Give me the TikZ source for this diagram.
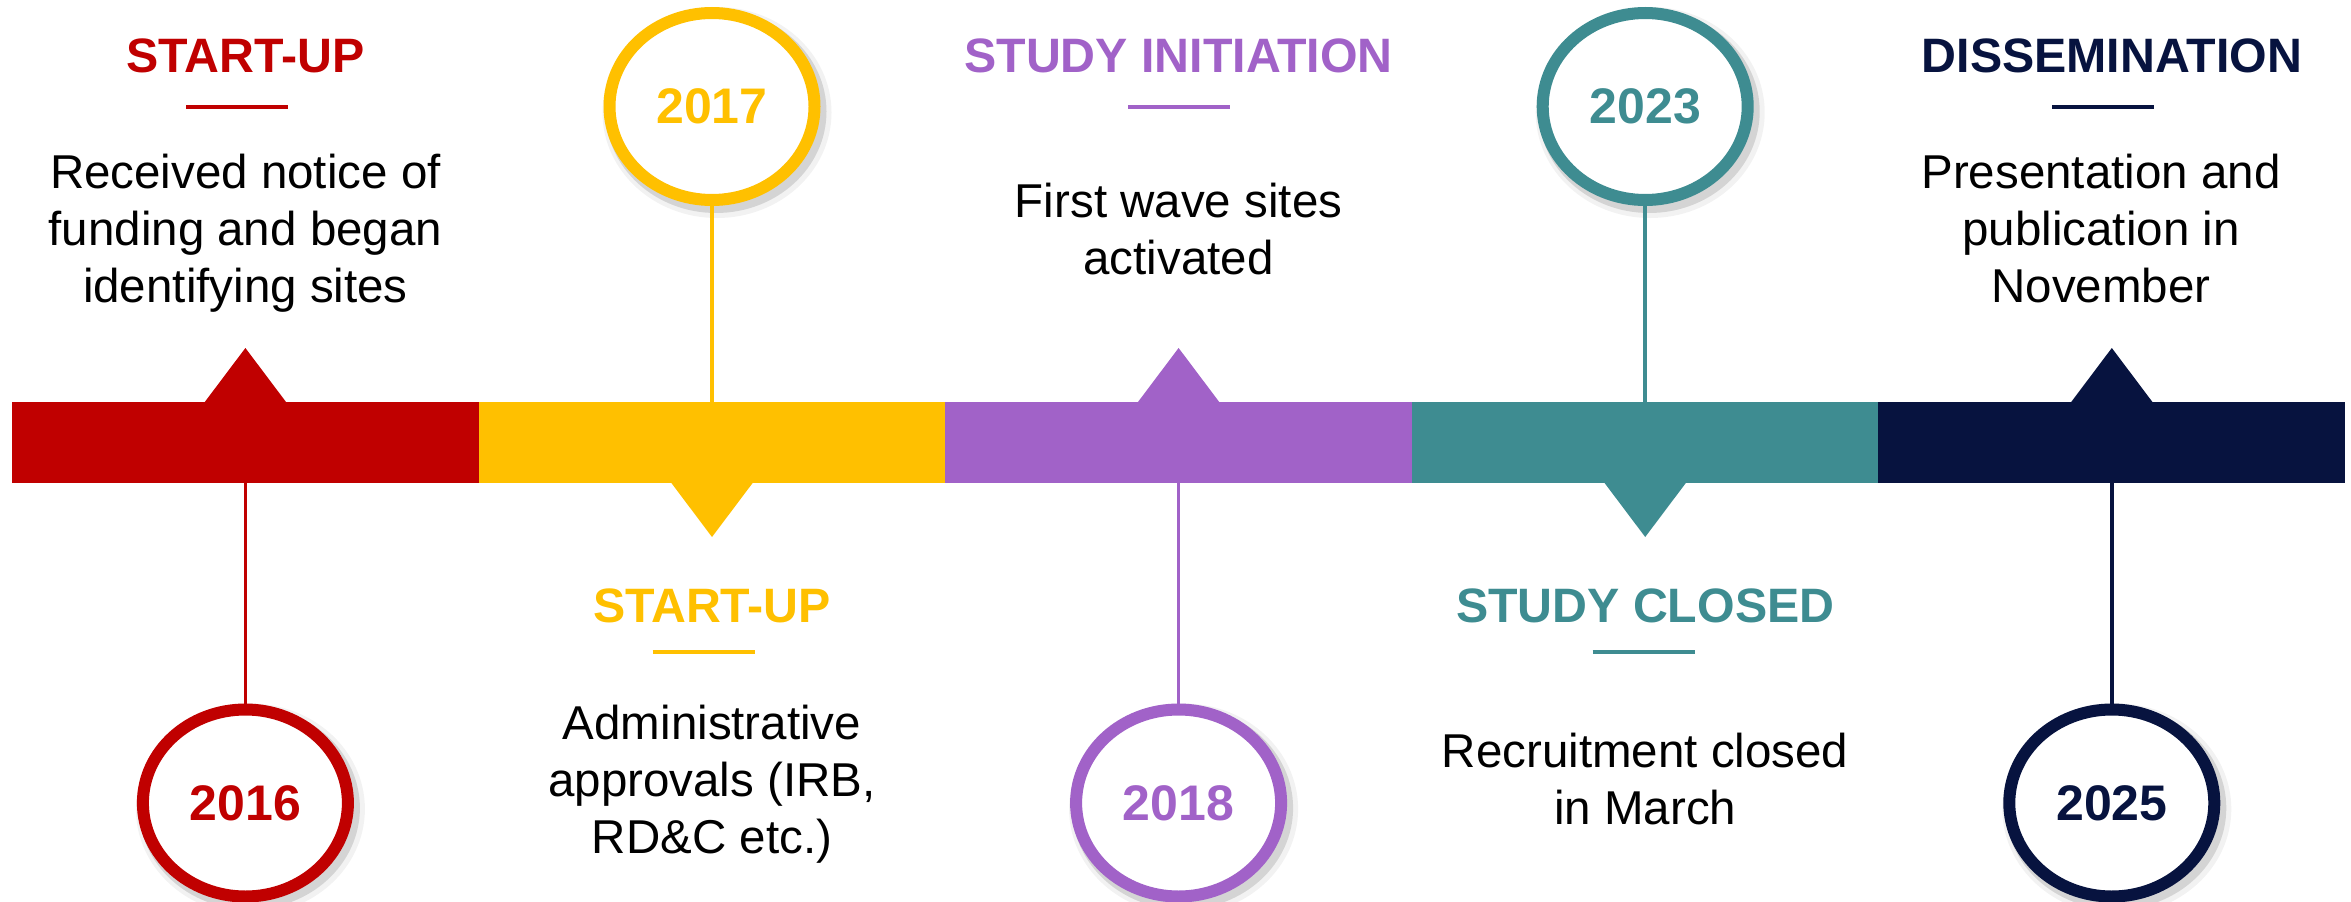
\documentclass[tikz,border=0pt]{standalone}
\usepackage{fontspec}
\setmainfont{Liberation Sans}
\usetikzlibrary{shapes.geometric}
\definecolor{cred}{HTML}{C00000}
\definecolor{cyel}{HTML}{FFC000}
\definecolor{cpur}{HTML}{A162C8}
\definecolor{cteal}{HTML}{3E8C91}
\definecolor{cnavy}{HTML}{07133F}
\tikzset{
  seg/.style={rectangle, minimum width=466.8pt, minimum height=81pt, inner sep=0pt, fill=#1},
  shadowfx/.style={
    preaction={draw=black, draw opacity=0.05, line width=24pt, transform canvas={shift={(5pt,-6pt)}}},
    preaction={draw=black, draw opacity=0.12, line width=16pt, transform canvas={shift={(4pt,-5pt)}}}},
  yearbox/.style={ellipse, minimum width=205pt, minimum height=187pt, inner sep=0pt,
    draw=#1, line width=12pt, fill=white, text=#1, font=\fontsize{50}{60}\selectfont\bfseries, shadowfx},
  head/.style={anchor=base, text=#1, inner sep=0pt, font=\fontsize{48.3}{57}\selectfont\bfseries},
  body/.style={anchor=base, align=center, inner sep=0pt, font=\fontsize{47.5}{57}\selectfont},
  uline/.style={draw=#1, line width=4pt},
  conn/.style={draw=#1, line width=3.5pt},
}
\begin{document}
\begin{tikzpicture}[x=1pt,y=-1pt]
\useasboundingbox[fill=white] (0,0) rectangle (2351,902);
% bar segments
\node[seg=cred]  (s1) at (245.4,442.5) {};
\node[seg=cyel]  (s2) at (712.0,442.5) {};
\node[seg=cpur]  (s3) at (1178.6,442.5) {};
\node[seg=cteal] (s4) at (1645.2,442.5) {};
\node[seg=cnavy] (s5) at (2111.8,442.5) {};
% triangles
\fill[cred]  (204.4,402.5) -- (245.4,348) -- (286.4,402.5) -- cycle;
\fill[cpur]  (1137.6,402.5) -- (1178.6,348) -- (1219.6,402.5) -- cycle;
\fill[cnavy] (2070.8,402.5) -- (2111.8,348) -- (2152.8,402.5) -- cycle;
\fill[cyel]  (671.0,482.5) -- (712.0,537) -- (753.0,482.5) -- cycle;
\fill[cteal] (1604.2,482.5) -- (1645.2,537) -- (1686.2,482.5) -- cycle;
% year ellipses
\node[yearbox=cred]  (y2016) at (245.4,803) {2016};
\node[yearbox=cyel]  (y2017) at (712.0,106.5) {2017};
\node[yearbox=cpur]  (y2018) at (1178.6,803) {2018};
\node[yearbox=cteal] (y2023) at (1645.2,106.5) {2023};
\node[yearbox=cnavy] (y2025) at (2111.8,803) {2025};
% connectors
\path[conn=cred]  (s1.south) -- (y2016.north);
\path[conn=cyel]  (y2017.south) -- (s2.north);
\path[conn=cpur]  (s3.south) -- (y2018.north);
\path[conn=cteal] (y2023.south) -- (s4.north);
\path[conn=cnavy] (s5.south) -- (y2025.north);
% headings
\node[head=cred]  (h1) at (245.4,72) {START-UP};
\node[head=cyel]  (h2) at (712.0,622) {START-UP};
\node[head=cpur]  (h3) at (1178.6,72) {STUDY INITIATION};
\node[head=cteal] (h4) at (1645.2,622) {STUDY CLOSED};
\node[head=cnavy] (h5) at (2111.8,72) {DISSEMINATION};
% underlines
\draw[uline=cred]  (186.0,107) -- (288.0,107);
\draw[uline=cyel]  (652.5,652) -- (754.5,652);
\draw[uline=cpur]  (1128.0,107) -- (1230.0,107);
\draw[uline=cteal] (1592.5,652) -- (1694.5,652);
\draw[uline=cnavy] (2052.0,107) -- (2154.0,107);
% body texts (base anchor = baseline of the last line)
\node[body] (b1) at (245.4,302) {Received notice of\\funding and began\\identifying sites};
\node[body] (b2) at (712.0,853) {Administrative\\approvals (IRB,\\RD\&C etc.)};
\node[body] (b3) at (1178.6,274) {First wave sites\\activated};
\node[body] (b4) at (1645.2,824) {Recruitment closed\\in March};
\node[body] (b5) at (2101.0,302) {Presentation and\\publication in\\November};
\end{tikzpicture}
\end{document}
